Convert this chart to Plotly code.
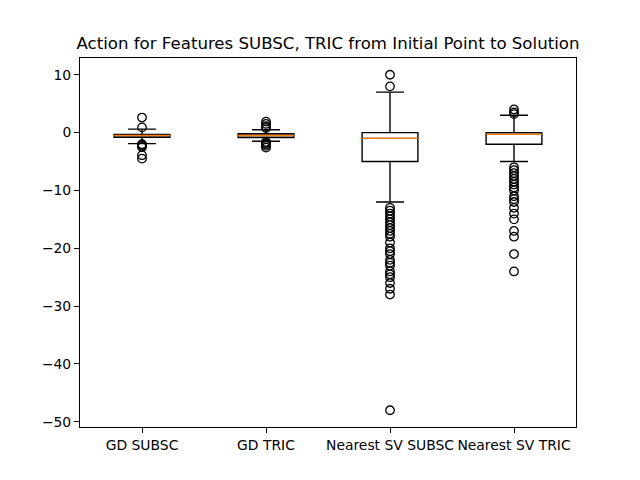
import plotly.graph_objects as go

categories = ["GD SUBSC", "GD TRIC", "Nearest SV SUBSC", "Nearest SV TRIC"]
q1 = [-0.8, -0.85, -5.0, -2.0]
median = [-0.5, -0.5, -1.0, -0.3]
q3 = [-0.3, -0.2, 0.0, 0.0]
lower_whisker = [-1.9, -1.5, -12.0, -5.0]
upper_whisker = [0.6, 0.5, 7.0, 3.0]

outliers_gd_subsc = [2.6, 0.9, -2.0, -2.1, -2.3, -2.5, -3.9, -4.5]
outliers_gd_tric = [1.9, 1.5, 1.1, 0.8, -1.6, -1.8, -2.0, -2.3, -2.6]
outliers_sv_subsc = [10, 8, -13, -13.5, -14, -14.5, -15, -15.5, -16, -16.5, -17, -17.5, -18,
                     -19, -20, -20.5, -21, -22, -22.5, -23, -24, -24.5, -25, -26, -27, -28, -48]
outliers_sv_tric = [4, 3.5, 3.2, -6, -6.5, -7, -7.5, -8, -8.5, -9, -9.5, -10, -11, -11.5,
                    -12, -13, -14, -15, -17, -18, -21, -24]
outliers = [outliers_gd_subsc, outliers_gd_tric, outliers_sv_subsc, outliers_sv_tric]

positions = [1, 2, 3, 4]
box_width = 0.45
yticks = [-50, -40, -30, -20, -10, 0, 10]

fig = go.Figure()
fig.add_trace(go.Box(
    x=positions, q1=q1, median=median, q3=q3,
    lowerfence=lower_whisker, upperfence=upper_whisker,
    boxpoints=False, width=box_width, whiskerwidth=0.5,
    line=dict(color="black", width=1.4), fillcolor="rgba(255,255,255,0)",
    showlegend=False, hoverinfo="skip"))

for p, m in zip(positions, median):
    fig.add_trace(go.Scatter(
        x=[p - box_width / 2, p + box_width / 2], y=[m, m], mode="lines",
        line=dict(color="#ff7f0e", width=1.4), showlegend=False, hoverinfo="skip"))

for p, vals in zip(positions, outliers):
    fig.add_trace(go.Scatter(
        x=[p] * len(vals), y=vals, mode="markers",
        marker=dict(symbol="circle-open", size=8.5, color="black", line=dict(width=1.3)),
        showlegend=False, hoverinfo="skip"))

axis_common = dict(showline=True, linecolor="black", linewidth=1, mirror=True,
                   ticks="outside", ticklen=5, tickwidth=1, tickcolor="black",
                   showgrid=False, zeroline=False,
                   tickfont=dict(family="DejaVu Sans", size=13.9, color="black"))

fig.update_layout(
    width=640, height=480,
    margin=dict(l=80, r=64, t=57.6, b=52.8, autoexpand=False),
    paper_bgcolor="white", plot_bgcolor="white",
    title=dict(text="Action for Features SUBSC, TRIC from Initial Point to Solution",
               x=0.5, xanchor="center", xref="paper", y=1 - 43 / 480, yanchor="middle",
               font=dict(family="DejaVu Sans", size=16.6, color="black")),
    xaxis=dict(range=[0.5, 4.5], tickvals=positions, ticktext=categories, **axis_common),
    yaxis=dict(range=[-50.9, 12.9], tickvals=yticks, **axis_common),
    font=dict(family="DejaVu Sans", color="black"),
)

fig.write_html("out.html", config={"displayModeBar": False, "staticPlot": True},
               post_script="document.body.style.margin='0px';document.body.style.overflow='hidden';")
